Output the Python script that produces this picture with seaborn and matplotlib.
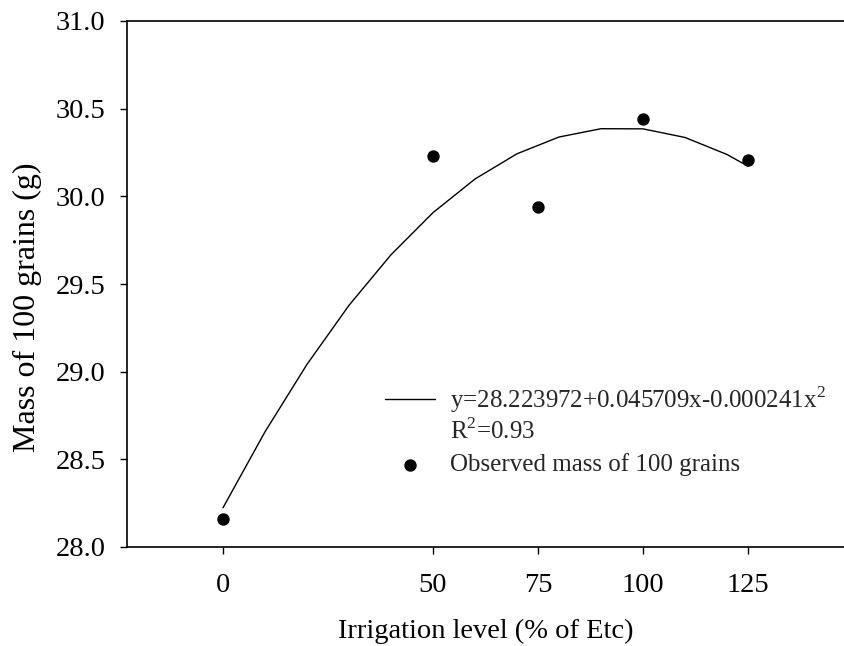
import numpy as np
import pandas as pd
import matplotlib
matplotlib.use("Agg")
import matplotlib.pyplot as plt
from matplotlib.legend_handler import HandlerLine2D
import seaborn as sns

# Observed data
irrigation = [0, 50, 75, 100, 125]
mass = [28.16, 30.23, 29.94, 30.44, 30.21]

# Fitted quadratic (coefficients from legend): c0 + c1*x + c2*x^2
coef = [28.223972, 0.045709, -0.000241]
fit_x = [0, 10, 20, 30, 40, 50, 60, 70, 80, 90, 100, 110, 120, 125]

xticks = [0, 50, 75, 100, 125]
yticks = [28.0, 28.5, 29.0, 29.5, 30.0, 30.5, 31.0]

sns.set_theme(style="white")
plt.rcParams['font.family'] = ['Liberation Serif', 'DejaVu Serif']
plt.rcParams['mathtext.fontset'] = 'custom'
plt.rcParams['mathtext.rm'] = 'Liberation Serif'

fig = plt.figure(figsize=(8.45, 6.46), dpi=100)
ax = fig.add_axes([127/845, 99/646, 1 - 127/845, 526/646])

fit_df = pd.DataFrame({"x": fit_x})
fit_df["y"] = coef[0] + coef[1]*fit_df["x"] + coef[2]*fit_df["x"]**2
obs_df = pd.DataFrame({"x": irrigation, "y": mass})

sns.lineplot(data=fit_df, x="x", y="y", ax=ax, color="black", linewidth=1.0,
             label="y=28.223972+0.045709x-0.000241x$^2$\nR$^2$=0.93")
sns.scatterplot(data=obs_df, x="x", y="y", ax=ax, color="black", s=80,
                edgecolor="black", linewidth=0, label="Observed mass of 100 grains", zorder=3)

ax.set_xlim(-22.86, 148.1)
ax.set_ylim(28.0, 31.0)
ax.set_xticks(xticks)
ax.set_xticklabels([str(t) for t in xticks])
ax.set_yticks(yticks)
ax.set_yticklabels([f"{t:.1f}" for t in yticks])

for s in ["left", "bottom", "top"]:
    ax.spines[s].set_color("black")
    ax.spines[s].set_linewidth(1.2)
ax.spines["right"].set_visible(False)

ax.tick_params(axis="both", which="major", direction="out", length=5, width=1.0,
               color="black", labelsize=20.5, labelcolor="black")
ax.tick_params(axis="x", top=False, bottom=True, pad=14)
ax.tick_params(axis="y", left=True, right=False, pad=10.5)

ax.set_xlabel("Irrigation level (% of Etc)", fontsize=20.5, color="black", va="top")
ax.set_ylabel("Mass of 100 grains (g)", fontsize=23, color="black")
ax.xaxis.set_label_coords(0.5, -0.136)
ax.yaxis.set_label_coords(-0.119, 0.456)


class FirstLineHandler(HandlerLine2D):
    def create_artists(self, legend, orig_handle, xdescent, ydescent, width, height,
                       fontsize, trans):
        artists = super().create_artists(legend, orig_handle, xdescent, ydescent,
                                         width, height, fontsize, trans)
        for a in artists:
            a.set_ydata(np.asarray(a.get_ydata()) + 0.58 * fontsize)
        return artists


handles, labels = ax.get_legend_handles_labels()
leg = ax.legend(handles, labels, loc="upper left", bbox_to_anchor=(0.3593, 0.31),
                frameon=False, fontsize=18, handlelength=2.0, handletextpad=0.6,
                labelspacing=0.36, borderaxespad=0, borderpad=0,
                handler_map={handles[0]: FirstLineHandler()})

fig.savefig("out.png", dpi=100)
